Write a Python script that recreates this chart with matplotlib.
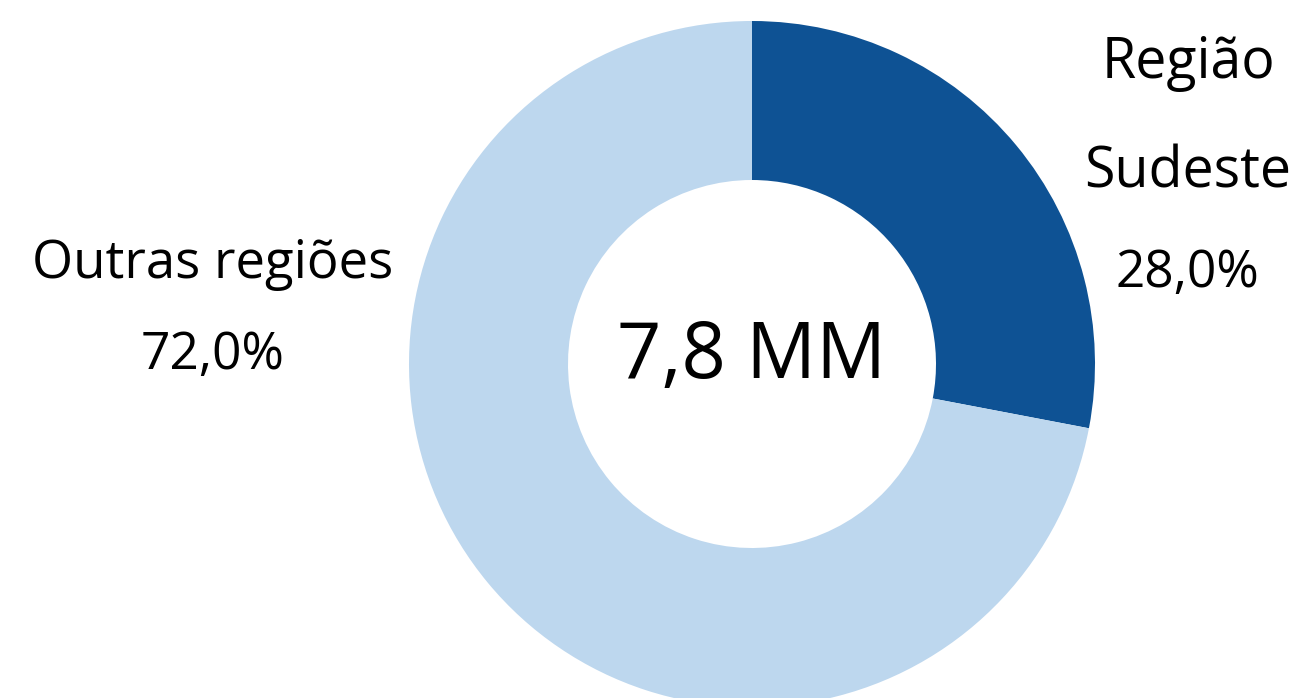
import matplotlib
matplotlib.use("Agg")
import matplotlib.pyplot as plt

# data
labels = ["Região\nSudeste", "Outras regiões"]
shares = [28.0, 72.0]
colors = ["#0E5294", "#BDD7EE"]
total_label = "7,8 MM"

plt.rcParams['font.family'] = ['Open Sans', 'DejaVu Sans']

W, H = 1302, 698
fig = plt.figure(figsize=(W / 100, H / 100), dpi=100)
ax = fig.add_axes([0, 0, 1, 1])

cx, cy = 752, H - 364
R, r_in = 343, 184
ax.pie(shares, colors=colors, startangle=90, counterclock=False,
       center=(cx, cy), radius=R, frame=True,
       wedgeprops=dict(width=R - r_in, linewidth=0))
ax.set_xlim(0, W)
ax.set_ylim(0, H)
ax.set_aspect('equal')
ax.axis('off')

ax.text(cx, H - 358, total_label, ha='center', va='center', fontsize=56)

# labels
ax.text(1188, H - 64, "Região", ha='center', va='center', fontsize=40)
ax.text(1188, H - 173, "Sudeste", ha='center', va='center', fontsize=40)
ax.text(1187, H - 273, f"{shares[0]:.1f}%".replace('.', ','),
        ha='center', va='center', fontsize=37)
ax.text(213, H - 264, labels[1], ha='center', va='center', fontsize=38)
ax.text(213, H - 355, f"{shares[1]:.1f}%".replace('.', ','),
        ha='center', va='center', fontsize=37)

fig.savefig("out.png", dpi=100)
